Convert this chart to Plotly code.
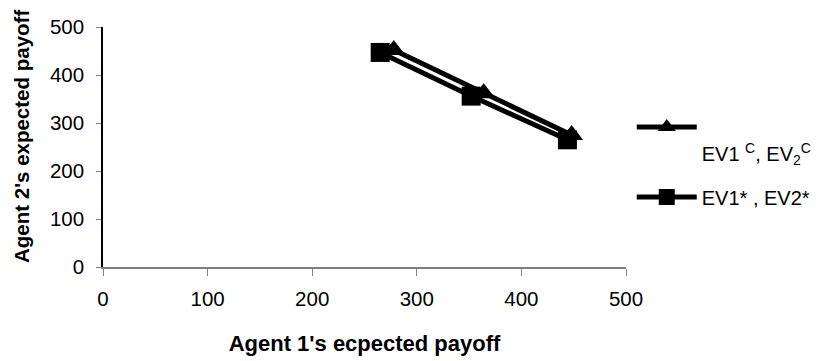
import plotly.graph_objects as go

# Data
ev_c_x = [278, 364, 448]
ev_c_y = [452, 362, 275]
ev_star_x = [265, 352, 444]
ev_star_y = [447, 356, 265]

series_names = ["<br>EV1 <sup>C</sup>, EV<sub>2</sub><sup>C</sup>", "EV1* , EV2*"]
tick_vals = [0, 100, 200, 300, 400, 500]
x_title = "Agent 1's ecpected payoff"
y_title = "Agent 2's expected payoff"

FONT = "Liberation Sans, Arial, sans-serif"

fig = go.Figure()
fig.add_trace(go.Scatter(
    x=ev_c_x, y=ev_c_y, mode="lines+markers", name=series_names[0],
    legendgroup="a",
    line=dict(color="black", width=5),
    marker=dict(symbol="triangle-up", size=20, color="black"),
))
fig.add_trace(go.Scatter(
    x=ev_star_x, y=ev_star_y, mode="lines+markers", name=series_names[1],
    legendgroup="b",
    line=dict(color="black", width=5),
    marker=dict(symbol="square", size=19, color="black"),
))

# page body has an 8px default margin, so the figure is 8px smaller
fig.update_layout(
    width=826, height=353,
    margin=dict(l=95, r=207.5, t=19, b=94),
    paper_bgcolor="white", plot_bgcolor="white",
    font=dict(family=FONT, size=20, color="black"),
    showlegend=True,
    legend=dict(x=1.011, y=0.437, xanchor="left", yanchor="middle",
                font=dict(size=20, family=FONT), tracegroupgap=15,
                traceorder="grouped", bgcolor="rgba(0,0,0,0)",
                itemwidth=60, valign="top"),
    xaxis=dict(range=[0, 500], tickvals=tick_vals, showgrid=False, zeroline=False,
               showline=True, linecolor="#808080", linewidth=1.5,
               ticks="outside", ticklen=7, tickcolor="#808080",
               tickfont=dict(size=20.5, family=FONT), ticklabelstandoff=6,
               automargin=False,
               title=dict(text="<b>" + x_title + "</b>", font=dict(size=22, family=FONT),
                          standoff=26)),
    yaxis=dict(range=[0, 500], tickvals=tick_vals, showgrid=False, zeroline=False,
               showline=True, linecolor="black", linewidth=1.5,
               ticks="outside", ticklen=5, tickcolor="#808080",
               tickfont=dict(size=20.5, family=FONT), ticklabelstandoff=8,
               automargin=False),
    annotations=[dict(text="<b>" + y_title + "</b>", textangle=-90,
                      xref="paper", yref="paper", x=-0.1547, y=0.542,
                      xanchor="center", yanchor="middle", showarrow=False,
                      font=dict(size=20.5, family=FONT, color="black"))],
)

fig.write_html("out.html")
